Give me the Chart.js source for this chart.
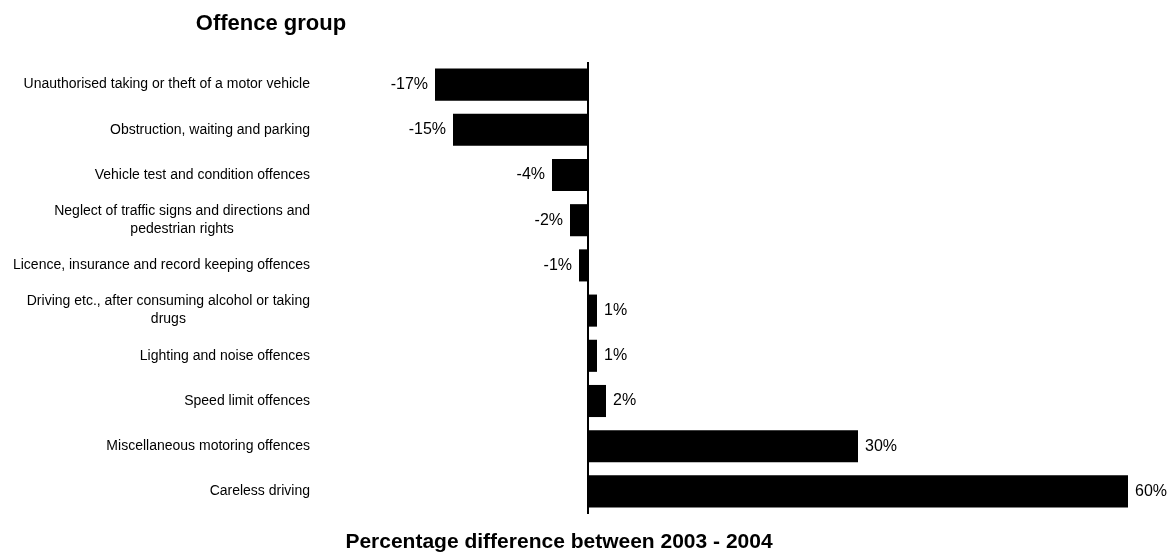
<!DOCTYPE html>
<html>
<head>
<meta charset="utf-8">
<script src="https://cdn.jsdelivr.net/npm/chart.js@4/dist/chart.umd.min.js"></script>
<style>
  html, body { margin: 0; padding: 0; background: #fff; }
  #wrap { width: 1168px; height: 554px; position: relative; }
</style>
</head>
<body>
<div id="wrap"><canvas id="c"></canvas></div>
<script>
// Offence groups (multi-line entries are wrapped labels)
const categories = [
  'Unauthorised taking or theft of a motor vehicle',
  'Obstruction, waiting and parking',
  'Vehicle test and condition offences',
  ['Neglect of traffic signs and directions and', 'pedestrian rights'],
  'Licence, insurance and record keeping offences',
  ['Driving etc., after consuming alcohol or taking', 'drugs'],
  'Lighting and noise offences',
  'Speed limit offences',
  'Miscellaneous motoring offences',
  'Careless driving'
];

// Percentage change 2003 -> 2004
const changePct = [-17, -15, -4, -2, -1, 1, 1, 2, 30, 60];

const axisTitleY = 'Offence group';
const axisTitleX = 'Percentage difference between 2003 - 2004';

const FONT = '"Liberation Sans", Arial, sans-serif';

// Category labels: block right-aligned, wrapped lines centred within the block
const categoryLabels = {
  id: 'categoryLabels',
  afterDraw(chart) {
    const ctx = chart.ctx;
    const y = chart.scales.y;
    const rightEdge = 310;
    const lineH = 18;
    ctx.save();
    ctx.font = '14px ' + FONT;
    ctx.fillStyle = '#000';
    ctx.textBaseline = 'middle';
    ctx.textAlign = 'center';
    y.ticks.forEach((t, i) => {
      const lab = chart.data.labels[i];
      const lines = Array.isArray(lab) ? lab : [lab];
      const w = Math.max(...lines.map(l => ctx.measureText(l).width));
      const cx = rightEdge - w / 2;
      const cy = y.getPixelForTick(i);
      const top = cy - (lines.length - 1) * lineH / 2;
      lines.forEach((l, k) => ctx.fillText(l, cx, top + k * lineH));
    });
    ctx.restore();
  }
};

// Value labels at the end of each bar
const valueLabels = {
  id: 'valueLabels',
  afterDatasetsDraw(chart) {
    const ctx = chart.ctx;
    const meta = chart.getDatasetMeta(0);
    ctx.save();
    ctx.font = '16px ' + FONT;
    ctx.fillStyle = '#000';
    ctx.textBaseline = 'middle';
    meta.data.forEach((bar, i) => {
      const v = chart.data.datasets[0].data[i];
      const txt = v + '%';
      if (v < 0) {
        ctx.textAlign = 'right';
        ctx.fillText(txt, bar.x - 7, bar.y);
      } else {
        ctx.textAlign = 'left';
        ctx.fillText(txt, bar.x + 7, bar.y);
      }
    });
    ctx.restore();
  }
};

// Axis titles
const axisTitles = {
  id: 'axisTitles',
  afterDraw(chart) {
    const ctx = chart.ctx;
    ctx.save();
    ctx.fillStyle = '#000';
    ctx.textAlign = 'center';
    ctx.textBaseline = 'middle';
    ctx.font = 'bold 22px ' + FONT;
    ctx.fillText(axisTitleY, 271, 24);
    ctx.font = 'bold 21px ' + FONT;
    ctx.fillText(axisTitleX, 559, 542);
    ctx.restore();
  }
};

new Chart(document.getElementById('c'), {
  type: 'bar',
  data: {
    labels: categories,
    datasets: [{
      data: changePct,
      backgroundColor: '#000',
      borderColor: '#000',
      borderWidth: 0,
      barPercentage: 0.71,
      categoryPercentage: 1.0
    }]
  },
  options: {
    indexAxis: 'y',
    responsive: true,
    maintainAspectRatio: false,
    animation: false,
    layout: { padding: { top: 62, bottom: 40, right: 40, left: 0 } },
    plugins: {
      legend: { display: false },
      tooltip: { enabled: false },
      title: { display: false }
    },
    scales: {
      x: {
        min: -20,
        max: 60,
        ticks: { display: false, stepSize: 10 },
        border: { display: false },
        grid: {
          drawTicks: false,
          lineWidth: 2,
          color: (c) => (c.tick && c.tick.value === 0) ? '#000' : 'rgba(0,0,0,0)'
        },
        afterFit(scale) { scale.height = 0; }
      },
      y: {
        ticks: { display: false },
        border: { display: false },
        grid: { display: false, drawTicks: false },
        afterFit(scale) { scale.width = 408; }
      }
    }
  },
  plugins: [categoryLabels, valueLabels, axisTitles]
});
</script>
</body>
</html>
